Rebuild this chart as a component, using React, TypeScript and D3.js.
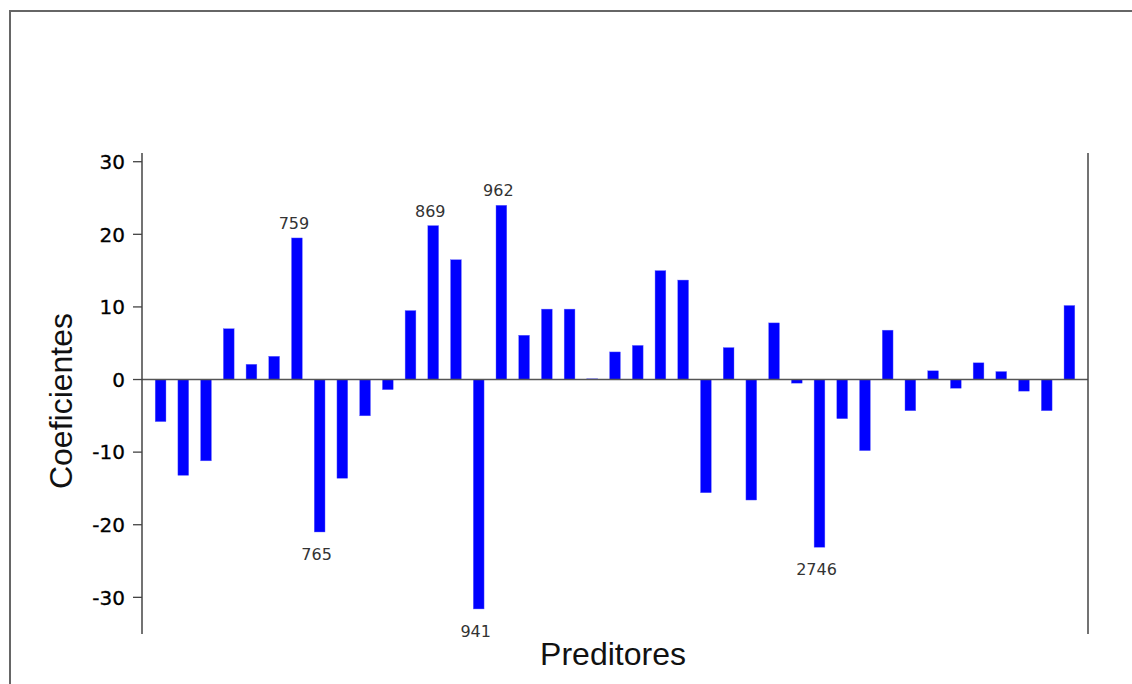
import React from "react";
import * as d3 from "d3";

// coefficient per predictor, read left to right
const coefficients = [
  -5.8, -13.2, -11.2, 7.0, 2.1, 3.2, 19.5, -21.0, -13.6, -5.0, -1.4, 9.5, 21.2,
  16.5, -31.6, 24.0, 6.1, 9.7, 9.7, 0.1, 3.8, 4.7, 15.0, 13.7, -15.6, 4.4,
  -16.6, 7.8, -0.5, -23.1, -5.4, -9.8, 6.8, -4.3, 1.2, -1.2, 2.3, 1.1, -1.6,
  -4.3, 10.2,
];

// only the outstanding predictors carry a label
const predictorLabels = [
  "", "", "", "", "", "", "759", "765", "", "", "", "", "869", "", "941",
  "962", "", "", "", "", "", "", "", "", "", "", "", "", "", "2746", "", "",
  "", "", "", "", "", "", "", "", "",
];

const yTicks = [-30, -20, -10, 0, 10, 20, 30];

const axisColor = "#444";
const tickFont = "'DejaVu Sans', Verdana, sans-serif";
const titleFont = "'Liberation Sans', Arial, sans-serif";

export default function App() {
  const width = 1132;
  const height = 684;
  const left = 142;
  const right = 1088;
  const top = 153;
  const bottom = 634;

  const x = d3
    .scaleBand<number>()
    .domain(d3.range(coefficients.length))
    .range([left, right])
    .paddingInner(0.525)
    .paddingOuter(0.58);

  const y = d3.scaleLinear().domain([-35.05, 31.2]).range([bottom, top]);

  return (
    <svg
      width={width}
      height={height}
      style={{ position: "absolute", left: 0, top: 0, background: "white" }}
    >
      <rect
        x={10}
        y={11}
        width={width + 20}
        height={height + 20}
        fill="white"
        stroke="#666"
        strokeWidth={2}
      />

      {/* bars */}
      <g>
        {coefficients.map((v, i) => (
          <rect
            key={i}
            x={x(i)}
            y={Math.min(y(v), y(0))}
            width={x.bandwidth()}
            height={Math.max(Math.abs(y(v) - y(0)), 1)}
            fill="#0000ff"
            stroke="#6a6aff"
            strokeWidth={0.4}
          />
        ))}
      </g>

      {/* zero line */}
      <line
        x1={left}
        x2={right}
        y1={y(0)}
        y2={y(0)}
        stroke="#555"
        strokeWidth={1.3}
      />

      {/* axes */}
      <line x1={left} x2={left} y1={top} y2={bottom} stroke={axisColor} strokeWidth={1.5} />
      <line x1={right} x2={right} y1={top} y2={bottom} stroke={axisColor} strokeWidth={1.5} />
      {yTicks.map((t) => (
        <g key={t} transform={`translate(${left}, ${y(t)})`}>
          <line x1={-9} x2={0} stroke={axisColor} strokeWidth={1.3} />
          <text
            x={-17}
            dy="0.36em"
            textAnchor="end"
            fontFamily={tickFont}
            fontSize={20}
            fill="#000"
            stroke="#000"
            strokeWidth={0.3}
          >
            {t}
          </text>
        </g>
      ))}

      {/* predictor labels */}
      {coefficients.map((v, i) =>
        predictorLabels[i] ? (
          <text
            key={`l${i}`}
            x={(x(i) as number) + x.bandwidth() / 2 - 3}
            y={v >= 0 ? y(v) - 9 : y(v) + 28}
            textAnchor="middle"
            fontFamily={tickFont}
            fontSize={16}
            fill="#333"
          >
            {predictorLabels[i]}
          </text>
        ) : null
      )}

      {/* titles */}
      <text
        x={613}
        y={665}
        textAnchor="middle"
        fontFamily={titleFont}
        fontSize={32}
        fill="#111"
      >
        Preditores
      </text>
      <text
        transform={`translate(72, 401) rotate(-90)`}
        textAnchor="middle"
        fontFamily={titleFont}
        fontSize={32}
        fill="#111"
      >
        Coeficientes
      </text>
    </svg>
  );
}
